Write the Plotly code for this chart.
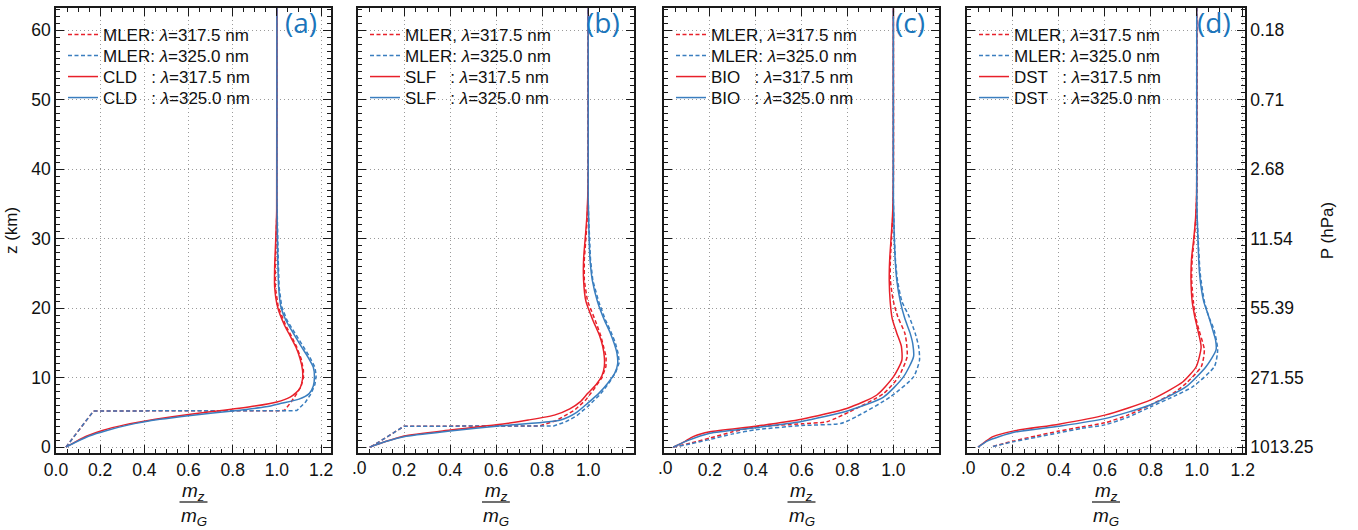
import plotly.graph_objects as go

# ---------------- data (ratio m_z/m_G versus altitude z in km) ----------------
# Panel (a) CLD
a_cld_r_z = [0, 0.8, 1.6, 2.4, 3.2, 4.0, 4.7, 5.3, 5.9, 6.5, 7.2, 7.8, 8.5, 9.8, 11.1, 12.7, 14.4, 16, 17.5, 20.2, 23, 26, 30, 34, 65]
a_cld_r_x = [0.045, 0.09, 0.14, 0.21, 0.31, 0.45, 0.6, 0.76, 0.9, 1.0, 1.06, 1.086, 1.105, 1.116, 1.116, 1.105, 1.086, 1.06, 1.035, 1.003, 0.99, 0.99, 0.995, 0.999, 1.0]
a_cld_b_z = [0, 0.8, 1.6, 2.4, 3.2, 4.0, 4.6, 5.2, 5.8, 6.3, 6.9, 7.7, 8.8, 10.1, 11.5, 13, 14.5, 16.4, 18.3, 20.2, 23, 27, 31, 36, 65]
a_cld_b_x = [0.045, 0.095, 0.15, 0.23, 0.33, 0.47, 0.62, 0.8, 0.95, 1.02, 1.1, 1.146, 1.165, 1.17, 1.165, 1.14, 1.11, 1.074, 1.04, 1.018, 1.008, 1.004, 1.002, 1.0, 1.0]
a_mler_r_z = [0, 5.2, 5.25, 6.3, 7.7, 8.8, 10, 11.1, 12.7, 14.4, 16, 17.5, 20.2, 23, 26, 30, 34, 65]
a_mler_r_x = [0.045, 0.17, 1.033, 1.06, 1.09, 1.11, 1.12, 1.12, 1.11, 1.09, 1.065, 1.04, 1.006, 0.993, 0.993, 0.997, 1.0, 1.0]
a_mler_b_z = [0, 5.2, 5.25, 6.5, 7.7, 9, 10.3, 11.5, 13, 14.5, 16.4, 18.3, 20.2, 23, 27, 31, 36, 65]
a_mler_b_x = [0.045, 0.17, 1.09, 1.13, 1.155, 1.172, 1.178, 1.172, 1.148, 1.118, 1.08, 1.045, 1.022, 1.01, 1.006, 1.003, 1.0, 1.0]

# Panel (b) SLF
b_slf_r_z = [0, 0.8, 1.6, 2.45, 3.2, 3.9, 4.6, 5.5, 6.5, 7.7, 9.0, 10.3, 11.6, 13, 14.5, 16, 18.3, 21, 24, 27, 30, 33, 36, 40, 65]
b_slf_r_x = [0.05, 0.12, 0.2, 0.4, 0.6, 0.74, 0.853, 0.92, 0.965, 0.997, 1.035, 1.06, 1.07, 1.07, 1.063, 1.05, 1.02, 0.99, 0.98, 0.98, 0.987, 0.994, 0.998, 1.0, 1.0]
b_slf_b_z = [0, 0.8, 1.5, 2.3, 3.0, 3.9, 5.0, 6.3, 7.7, 9.2, 10.6, 12, 13.5, 14.9, 16.5, 18.3, 21, 24, 27, 30, 33, 36, 65]
b_slf_b_x = [0.05, 0.12, 0.2, 0.4, 0.6, 0.88, 0.95, 0.997, 1.045, 1.085, 1.115, 1.128, 1.125, 1.113, 1.095, 1.07, 1.04, 1.018, 1.008, 1.004, 1.002, 1.0, 1.0]
b_mler_r_z = [0, 3.0, 3.05, 3.8, 5.3, 6.8, 8.4, 10, 11.6, 13, 14, 16, 18.3, 21, 24, 27, 30, 33, 37, 65]
b_mler_r_x = [0.055, 0.2, 0.79, 0.86, 0.94, 0.99, 1.026, 1.06, 1.077, 1.078, 1.07, 1.055, 1.03, 0.997, 0.983, 0.983, 0.99, 0.996, 1.0, 1.0]
b_mler_b_z = [0, 3.0, 3.05, 3.6, 4.5, 5.9, 7.5, 9.2, 10.8, 12.2, 13.5, 15, 16.5, 18.3, 21, 24, 27, 30, 33, 36, 65]
b_mler_b_x = [0.055, 0.2, 0.85, 0.9, 0.95, 1.0, 1.05, 1.09, 1.12, 1.135, 1.13, 1.118, 1.1, 1.075, 1.045, 1.02, 1.01, 1.005, 1.002, 1.0, 1.0]

# Panel (c) BIO
c_bio_r_z = [0, 0.8, 1.5, 2.2, 3.0, 4.0, 5.6, 7.5, 10.1, 12.5, 14.5, 16.4, 18.5, 21, 24, 27, 30, 33, 36, 40, 65]
c_bio_r_x = [0.04, 0.09, 0.127, 0.2, 0.4, 0.6, 0.8, 0.928, 1.0, 1.037, 1.035, 1.015, 0.995, 0.986, 0.982, 0.984, 0.99, 0.996, 0.999, 1.0, 1.0]
c_bio_b_z = [0, 0.9, 2.0, 2.8, 3.7, 5.2, 7.2, 10.1, 13, 14.8, 16.4, 18.5, 21, 24, 27, 30, 33, 36, 65]
c_bio_b_x = [0.04, 0.1, 0.2, 0.4, 0.6, 0.8, 0.957, 1.044, 1.088, 1.085, 1.073, 1.05, 1.03, 1.015, 1.008, 1.004, 1.002, 1.0, 1.0]
c_mler_r_z = [0, 0.6, 1.3, 2.2, 2.9, 3.35, 3.65, 5.1, 7.7, 10.1, 13, 14.8, 16.4, 18.7, 21, 24, 27, 30, 33, 37, 65]
c_mler_r_x = [0.04, 0.12, 0.2, 0.3, 0.4, 0.6, 0.71, 0.81, 0.957, 1.023, 1.06, 1.058, 1.05, 1.02, 1.0, 0.987, 0.987, 0.992, 0.997, 1.0, 1.0]
c_mler_b_z = [0, 0.5, 1.1, 1.9, 2.5, 3.1, 3.4, 4.4, 7.2, 10.1, 12.5, 14.5, 16.4, 18.7, 21, 24, 27, 30, 33, 36, 65]
c_mler_b_x = [0.04, 0.12, 0.2, 0.3, 0.4, 0.6, 0.77, 0.84, 0.986, 1.088, 1.114, 1.11, 1.095, 1.07, 1.037, 1.018, 1.009, 1.005, 1.002, 1.0, 1.0]

# Panel (d) DST
d_dst_r_z = [0, 0.8, 1.5, 2.3, 3.3, 4.6, 6.8, 9.4, 11.6, 14.4, 16.8, 19, 21, 24, 27, 30, 33, 36, 40, 65]
d_dst_r_x = [0.048, 0.08, 0.113, 0.2, 0.4, 0.6, 0.8, 0.94, 0.998, 1.019, 1.005, 0.99, 0.98, 0.975, 0.977, 0.987, 0.995, 0.999, 1.0, 1.0]
d_dst_b_z = [0, 0.9, 2.1, 3.0, 4.1, 6.1, 8.7, 11.6, 14, 15.4, 16.8, 19, 21, 25, 30, 33, 36, 65]
d_dst_b_x = [0.048, 0.09, 0.2, 0.4, 0.6, 0.8, 0.954, 1.041, 1.084, 1.082, 1.07, 1.05, 1.03, 1.012, 1.005, 1.002, 1.0, 1.0]
d_mler_r_z = [0.1, 0.85, 1.6, 2.3, 2.9, 3.5, 4.6, 6.1, 7.8, 9.2, 11.6, 14, 16.8, 19, 21, 24, 27, 30, 33, 37, 65]
d_mler_r_x = [0.113, 0.2, 0.3, 0.4, 0.5, 0.6, 0.7, 0.8, 0.9, 0.954, 1.02, 1.033, 1.01, 0.993, 0.985, 0.978, 0.98, 0.989, 0.996, 1.0, 1.0]
d_mler_b_z = [0.1, 0.75, 1.4, 2.05, 2.7, 3.2, 4.3, 5.8, 7.3, 8.7, 11.6, 14, 16.8, 19, 21, 25, 30, 33, 36, 65]
d_mler_b_x = [0.113, 0.2, 0.3, 0.4, 0.5, 0.6, 0.7, 0.8, 0.9, 0.983, 1.077, 1.091, 1.076, 1.05, 1.033, 1.015, 1.006, 1.002, 1.0, 1.0]

panel_types = ["CLD", "SLF", "BIO", "DST"]
panel_letters = ["(a)", "(b)", "(c)", "(d)"]
z_ticks = [0, 10, 20, 30, 40, 50, 60]
p_ticks = ["1013.25", "271.55", "55.39", "11.54", "2.68", "0.71", "0.18"]
x_ticks = [0.0, 0.2, 0.4, 0.6, 0.8, 1.0, 1.2]

panels = [
    (a_mler_r_z, a_mler_r_x, a_mler_b_z, a_mler_b_x, a_cld_r_z, a_cld_r_x, a_cld_b_z, a_cld_b_x),
    (b_mler_r_z, b_mler_r_x, b_mler_b_z, b_mler_b_x, b_slf_r_z, b_slf_r_x, b_slf_b_z, b_slf_b_x),
    (c_mler_r_z, c_mler_r_x, c_mler_b_z, c_mler_b_x, c_bio_r_z, c_bio_r_x, c_bio_b_z, c_bio_b_x),
    (d_mler_r_z, d_mler_r_x, d_mler_b_z, d_mler_b_x, d_dst_r_z, d_dst_r_x, d_dst_b_z, d_dst_b_x),
]

# ---------------- style ----------------
W, H = 1358, 530
RED = "#e8202a"
BLUE = "#3a7ebf"
FRAME = "#1a1a1a"
GRID = "#9a9a9a"
FONT = "Arial, Liberation Sans, sans-serif"
NB = "\u00a0"
TICKSIZE = 17.5
LEGSIZE = 17
LEG_ROWS_PX = [35, 56, 77, 98]
LAM = f'<span style="font-style:italic;font-size:{LEGSIZE}px">λ</span>'

dom_px = [(56, 331), (358, 634), (664, 939), (967, 1245)]
x_ranges = [[0, 1.245], [0, 1.199], [0, 1.199], [0, 1.21]]
y_dom = [1 - 453 / H, 1 - 8 / H]
y_range = [-0.85, 63.2]

fig = go.Figure()
annotations = []
shapes = []

for i, (mrz, mrx, mbz, mbx, srz, srx, sbz, sbx) in enumerate(panels):
    k = "" if i == 0 else str(i + 1)
    xa, ya = "x" + k, "y" + k
    typ = panel_types[i]
    sep1 = ":" if i == 0 else ","
    names = [
        f"MLER{sep1} {LAM}=317.5 nm",
        f"MLER: {LAM}=325.0 nm",
        f"{typ}{NB*3}: {LAM}=317.5 nm",
        f"{typ}{NB*3}: {LAM}=325.0 nm",
    ]
    shape_kind = "linear" if i < 2 else "spline"
    series = [
        (mrx, mrz, RED, "4px,2.5px", shape_kind),
        (mbx, mbz, BLUE, "4px,2.5px", shape_kind),
        (srx, srz, RED, "solid", "spline"),
        (sbx, sbz, BLUE, "solid", "spline"),
    ]
    x0, x1 = dom_px[i]
    for j, ((xs, zs, col, dash, shp), nm) in enumerate(zip(series, names)):
        li = 4 * i + j + 1
        leg = "legend" if li == 1 else f"legend{li}"
        fig.add_trace(go.Scatter(
            x=xs, y=zs, mode="lines", name=nm,
            line=dict(color=col, width=1.5, dash=dash, shape=shp, smoothing=0.6),
            xaxis=xa, yaxis=ya, legend=leg, showlegend=True,
        ))
        fig.layout[leg] = dict(
            x=(x0 + 7) / W, y=1 - LEG_ROWS_PX[j] / H, xanchor="left", yanchor="middle",
            bgcolor="rgba(0,0,0,0)", borderwidth=0, tracegroupgap=0,
            font=dict(size=LEGSIZE, family=FONT, color="#111"), itemwidth=30,
        )

    # x axis
    xt_text = [f"{v:.1f}" for v in x_ticks]
    if i > 0:
        xt_text[0] = ""
    fig.layout["xaxis" + k] = dict(
        domain=[x0 / W, x1 / W], range=x_ranges[i], anchor=ya,
        tickmode="array", tickvals=x_ticks, ticktext=xt_text,
        ticks="inside", ticklen=8, tickwidth=1.2, tickcolor=FRAME,
        minor=dict(ticks="inside", ticklen=4, dtick=0.05, tick0=0, tickcolor=FRAME, showgrid=False),
        showline=True, linecolor=FRAME, linewidth=1.5, mirror="ticks",
        showgrid=True, gridcolor=GRID, griddash="1px,3px", gridwidth=1,
        zeroline=False, tickfont=dict(size=TICKSIZE, family=FONT, color="#111"),
    )
    # y axis
    yax = dict(
        domain=y_dom, range=y_range, anchor=xa,
        tickmode="array", tickvals=z_ticks,
        ticks="inside", ticklen=8, tickwidth=1.2, tickcolor=FRAME,
        minor=dict(ticks="inside", ticklen=4, dtick=1, tick0=0, tickcolor=FRAME, showgrid=False),
        showline=True, linecolor=FRAME, linewidth=1.5, mirror="ticks",
        showgrid=True, gridcolor=GRID, griddash="1px,3px", gridwidth=1,
        zeroline=False, tickfont=dict(size=TICKSIZE, family=FONT, color="#111"),
    )
    if i == 0:
        yax["ticktext"] = [str(v) for v in z_ticks]
        yax["title"] = dict(text="z (km)", standoff=9, font=dict(size=17, family=FONT, color="#111"))
    elif i == 3:
        yax["side"] = "right"
        yax["ticktext"] = p_ticks
        yax["title"] = dict(text="P (hPa)", standoff=9, font=dict(size=17, family=FONT, color="#111"))
    else:
        yax["showticklabels"] = False
    fig.layout["yaxis" + k] = yax

    # panel letter
    annotations.append(dict(
        text=panel_letters[i], xref="paper", yref="paper",
        x=(x1 - 12) / W, y=1 - 22 / H, xanchor="right", yanchor="middle",
        showarrow=False, font=dict(size=28, family="Open Sans, sans-serif", color="#1b75bb"),
    ))
    # clipped ".0" tick label in panels b-d
    if i > 0:
        annotations.append(dict(
            text=".0", xref=xa, yref="paper", x=0, y=1 - 468 / H,
            xanchor="left", yanchor="middle", showarrow=False, xshift=-8,
            font=dict(size=TICKSIZE, family=FONT, color="#111"),
        ))
    # x-axis title as a fraction m_z / m_G
    cx = (x0 + x1) / 2
    annotations.append(dict(
        text="m<sub>z</sub>", xref="paper", yref="paper",
        x=cx / W, y=1 - 492 / H, xanchor="center", yanchor="middle",
        showarrow=False, font=dict(size=19, family=FONT, color="#111", style="italic"),
    ))
    annotations.append(dict(
        text="m<sub>G</sub>", xref="paper", yref="paper",
        x=cx / W, y=1 - 517 / H, xanchor="center", yanchor="middle",
        showarrow=False, font=dict(size=19, family=FONT, color="#111", style="italic"),
    ))
    shapes.append(dict(
        type="line", xref="paper", yref="paper",
        x0=(cx - 14) / W, x1=(cx + 14) / W, y0=1 - 502 / H, y1=1 - 502 / H,
        line=dict(color="#111", width=1.2),
    ))

fig.update_layout(
    width=W, height=H, margin=dict(l=0, r=0, t=0, b=0, autoexpand=False),
    paper_bgcolor="white", plot_bgcolor="white",
    annotations=annotations, shapes=shapes,
    font=dict(family=FONT, color="#111"),
)

fig.write_html("out.html")
